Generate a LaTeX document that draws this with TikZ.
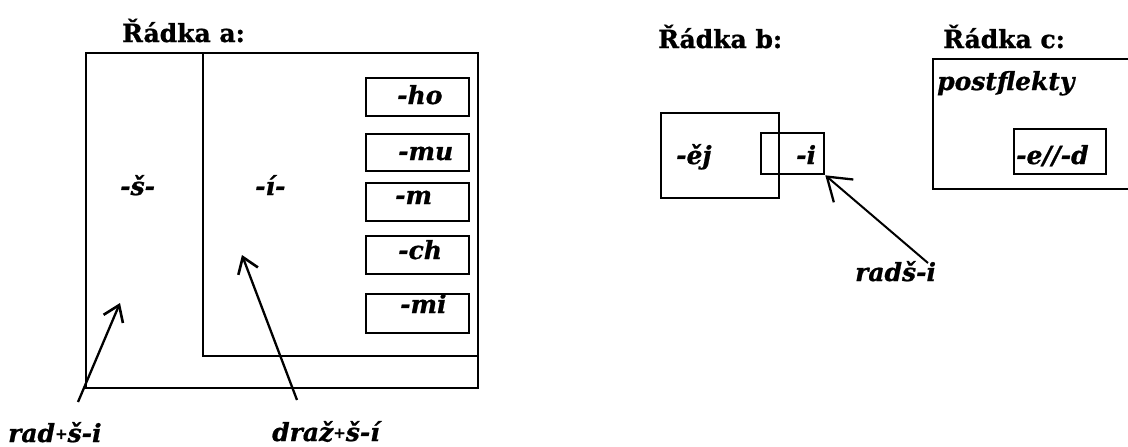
\documentclass[tikz,border=0pt]{standalone}
\usepackage{fontspec}
\setmainfont{DejaVu Serif}[BoldFeatures={FakeBold=1.0},BoldItalicFeatures={FakeBold=0.8}]
\usetikzlibrary{arrows.meta}
\tikzset{
  frame/.style={draw, line width=2.3pt, inner sep=0pt, anchor=north west},
  morph/.style={font=\bfseries\itshape\fontsize{25}{30}\selectfont, inner sep=0pt, anchor=base west},
  heading/.style={font=\bfseries\fontsize{25}{29}\selectfont, inner sep=0pt, anchor=base west},
  pointer/.style={line width=2.3pt, -{Straight Barb[length=15pt,width=21pt,line width=2.6pt]}},
  bigpointer/.style={line width=2pt, -{Straight Barb[length=22pt,width=30pt,line width=2.3pt]}},
}
\newcommand{\mplus}{{\fontsize{15}{15}\selectfont\raisebox{3pt}{+}}}
\begin{document}
\begin{tikzpicture}[x=1pt,y=-1pt]
  \fill[white] (0,0) rectangle (1128,447);
  \clip (0,0) rectangle (1128,447);

  % --- row a ---
  \node[heading] (heada) at (122,42) {Řádka a:};
  \node[frame, minimum width=392pt, minimum height=335pt] (rowa) at (85,52) {};
  \node[frame, minimum width=275pt, minimum height=303pt] (ibox) at (202,52) {};
  \node[frame, minimum width=103pt, minimum height=38pt] (ho) at (365,77) {};
  \node[frame, minimum width=103pt, minimum height=37pt] (mu) at (365,133) {};
  \node[frame, minimum width=103pt, minimum height=38pt] (m)  at (365,182) {};
  \node[frame, minimum width=103pt, minimum height=38pt] (ch) at (365,235) {};
  \node[frame, minimum width=103pt, minimum height=39pt] (mi) at (365,293) {};

  \node[morph] (tho) at (397,104) {-ho};
  \node[morph] (tmu) at (398,160) {-mu};
  \node[morph] (tm)  at (395,204) {-m};
  \node[morph] (tch) at (398,259) {-ch};
  \node[morph] (tmi) at (400,313) {-mi};

  \node[morph] (ssh) at (120,195) {-š-};
  \node[morph] (iii) at (255,195) {-í-};

  \node[morph] (radi)  at (8,442)  {rad\mplus š-i};
  \node[morph] (drazi) at (272,441) {draž\mplus š-í};

  \coordinate (t1) at (78,402);
  \coordinate (h1) at (120,303);
  \coordinate (t2) at (297,400);
  \coordinate (h2) at (242,255);
  \draw[pointer] (t1) -- (h1);
  \draw[pointer] (t2) -- (h2);

  % --- row b ---
  \node[heading] (headb) at (658,48) {Řádka b:};
  \node[frame, minimum width=118pt, minimum height=85pt] (ej) at (660,112) {};
  \node[frame, minimum width=63pt, minimum height=41pt] (bi) at (760,132) {};
  \node[morph] (tej) at (676,164) {-ěj};
  \node[morph] (tbi) at (796,164) {-i};
  \node[morph] (radsi) at (855,281) {radš-i};
  \coordinate (t3) at (928,263);
  \draw[bigpointer] (t3) -- (bi.south east);

  % --- row c ---
  \node[heading] (headc) at (943,48) {Řádka c:};
  \node[frame, minimum width=230pt, minimum height=130pt] (boxc) at (932,58) {};
  \node[morph] (post) at (937,90) {postflekty};
  \node[frame, minimum width=92pt, minimum height=45pt] (ed) at (1013,128) {};
  \node[morph] (ted) at (1016,164) {-e//-d};
\end{tikzpicture}
\end{document}
